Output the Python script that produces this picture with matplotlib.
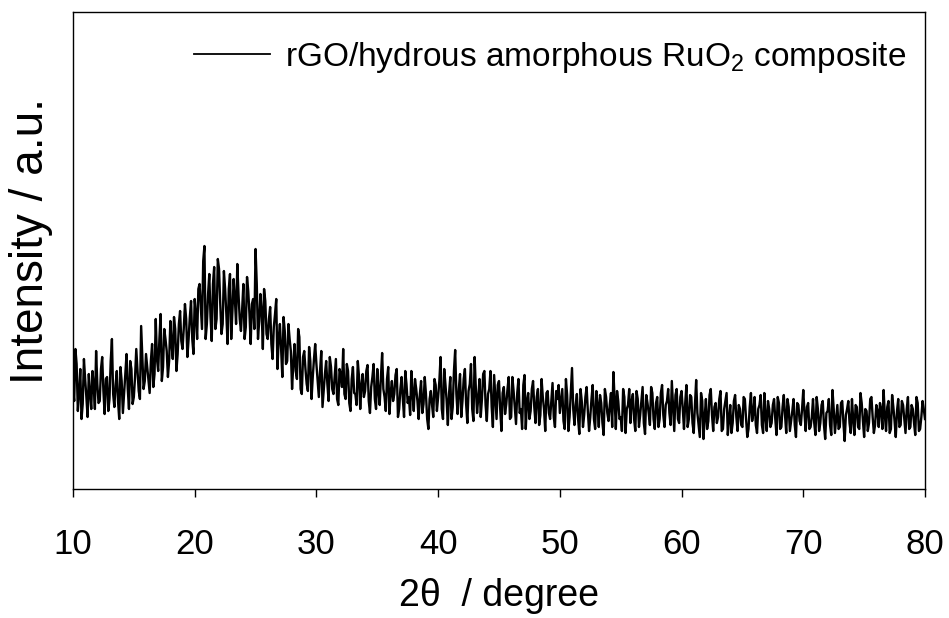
# XRD pattern of rGO / hydrous amorphous RuO2 composite

import numpy as np
import matplotlib
matplotlib.use("Agg")
import matplotlib.pyplot as plt

plt.rcParams['font.family'] = ['Liberation Sans', 'DejaVu Sans']
plt.rcParams['mathtext.default'] = 'regular'

# intensity (a.u.) at 10.0, 10.2, ... 80.0 degree
int_10_20 = [100, 140, 78, 120, 85, 110, 72, 96, 118, 80,
             105, 88, 132, 75, 112, 90, 150, 82, 118, 70,
             108, 95, 135, 80, 120, 92, 140, 98, 163, 100,
             135, 108, 128, 102, 170, 118, 175, 122, 150, 112,
             168, 130, 160, 135, 178, 140, 185, 132, 172, 150]
int_20_30 = [190, 150, 205, 160, 243, 165, 215, 148, 222, 170,
             220, 155, 218, 175, 200, 150, 210, 165, 195, 158,
             205, 162, 198, 145, 190, 240, 150, 195, 140, 188,
             150, 182, 130, 175, 120, 165, 112, 158, 128, 150,
             100, 145, 110, 152, 95, 138, 105, 142, 90, 130]
int_30_40 = [125, 92, 138, 98, 128, 88, 122, 95, 130, 84,
             115, 140, 90, 118, 78, 122, 95, 128, 80, 115,
             98, 124, 76, 112, 90, 120, 84, 136, 92, 110,
             75, 108, 95, 120, 80, 112, 72, 105, 92, 118,
             78, 100, 70, 108, 85, 95, 60, 98, 72, 104]
int_40_50 = [92, 132, 70, 105, 64, 112, 82, 139, 75, 115,
             88, 120, 66, 105, 80, 132, 76, 110, 90, 118,
             68, 100, 82, 114, 70, 108, 58, 102, 85, 112,
             72, 98, 65, 110, 80, 104, 60, 96, 78, 108,
             66, 100, 74, 92, 58, 98, 70, 106, 62, 90]
int_50_60 = [76, 100, 60, 94, 72, 121, 64, 95, 55, 88,
             74, 102, 58, 90, 70, 98, 62, 86, 54, 92,
             68, 96, 117, 60, 88, 72, 100, 56, 84, 66,
             95, 58, 90, 74, 102, 55, 86, 64, 96, 60,
             92, 70, 104, 62, 88, 76, 108, 58, 100, 66]
int_60_70 = [98, 60, 104, 70, 92, 56, 109, 64, 96, 50,
             90, 68, 100, 58, 86, 72, 98, 60, 88, 54,
             84, 66, 94, 58, 80, 62, 90, 52, 82, 68,
             92, 56, 84, 64, 96, 58, 80, 66, 90, 54,
             86, 62, 94, 56, 82, 68, 90, 52, 84, 64]
int_70_80 = [99, 58, 86, 62, 90, 54, 80, 66, 88, 50,
             78, 64, 99, 56, 84, 62, 88, 48, 80, 66,
             90, 54, 82, 60, 86, 52, 78, 66, 92, 56,
             84, 62, 80, 99, 58, 88, 60, 82, 52, 90,
             64, 84, 56, 92, 62, 80, 54, 86, 60, 88,
             70]

# in-between readings at 10.1, 10.3, ... 79.9 degree
mid_10_20 = [88, 125, 96, 70, 130, 92, 115, 80, 104, 138,
             86, 120, 98, 110, 78, 128, 95, 104, 88, 122,
             76, 115, 100, 128, 85, 112, 118, 90, 132, 108,
             122, 96, 145, 115, 130, 150, 108, 160, 138, 128,
             145, 172, 118, 165, 148, 160, 170, 150, 188, 135]
mid_20_30 = [175, 200, 182, 228, 150, 195, 172, 205, 160, 230,
             185, 165, 200, 145, 215, 178, 190, 225, 170, 180,
             150, 212, 175, 185, 160, 205, 168, 178, 200, 155,
             170, 145, 162, 190, 150, 140, 172, 125, 165, 138,
             125, 118, 160, 100, 132, 120, 98, 128, 112, 145]
mid_30_40 = [108, 118, 82, 115, 105, 132, 100, 112, 90, 120,
             102, 95, 125, 86, 110, 96, 84, 112, 104, 92,
             118, 88, 102, 125, 80, 98, 112, 100, 78, 122,
             96, 88, 114, 72, 100, 90, 118, 86, 74, 96,
             110, 88, 95, 76, 112, 70, 90, 84, 110, 78]
mid_40_50 = [108, 80, 120, 88, 96, 70, 118, 95, 100, 72,
             110, 85, 98, 125, 68, 100, 92, 72, 115, 84,
             95, 118, 62, 92, 104, 80, 96, 75, 100, 70,
             112, 82, 96, 76, 60, 114, 88, 70, 100, 82,
             92, 64, 110, 80, 96, 76, 88, 72, 98, 104]
mid_50_60 = [88, 68, 110, 58, 96, 80, 84, 70, 100, 62,
             92, 78, 72, 104, 60, 84, 94, 66, 100, 76,
             84, 62, 90, 98, 70, 58, 92, 80, 100, 88,
             70, 98, 62, 88, 66, 94, 76, 102, 70, 86,
             62, 96, 74, 84, 100, 64, 82, 94, 70, 92]
mid_60_70 = [80, 86, 62, 94, 66, 84, 76, 52, 88, 72,
             60, 94, 74, 82, 66, 90, 58, 80, 96, 70,
             56, 88, 72, 84, 64, 92, 70, 60, 96, 76,
             64, 80, 94, 56, 72, 88, 62, 84, 70, 92,
             60, 82, 74, 90, 58, 78, 64, 86, 68, 80]
mid_70_80 = [76, 82, 60, 72, 66, 92, 58, 84, 64, 76,
             90, 54, 80, 70, 60, 86, 66, 74, 88, 56,
             70, 84, 62, 96, 68, 80, 58, 90, 72, 64,
             78, 86, 60, 74, 82, 56, 94, 68, 78, 62,
             88, 70, 80, 60, 84, 66, 92, 58, 72, 80]

main = np.concatenate([int_10_20, int_20_30, int_30_40, int_40_50,
                       int_50_60, int_60_70, int_70_80])
mids = np.concatenate([mid_10_20, mid_20_30, mid_30_40, mid_40_50,
                       mid_50_60, mid_60_70, mid_70_80])
intensity = np.empty(len(main) + len(mids))
intensity[0::2] = main
intensity[1::2] = mids
two_theta = np.linspace(10, 80, len(intensity))

x_ticks = [10, 20, 30, 40, 50, 60, 70, 80]
label = "rGO/hydrous amorphous RuO$_2$ composite"

fig = plt.figure(figsize=(9.49, 6.18), dpi=100)
ax = fig.add_axes([0.0769, 0.2087, 0.8978, 0.7719])

ax.plot(two_theta, intensity, color='black', lw=1.7, label=label)

ax.set_xlim(10, 80)
ax.set_ylim(0, 477)
ax.set_xticks(x_ticks)
ax.set_yticks([])
ax.tick_params(axis='x', direction='out', length=6, width=1.0, pad=22,
               labelsize=25)
for sp in ax.spines.values():
    sp.set_linewidth(1.0)

ax.set_xlabel("2θ  / degree", fontsize=27, labelpad=12)
ax.set_ylabel("Intensity / a.u.", fontsize=33)
ax.yaxis.set_label_coords(-0.024, 0.52)

leg = ax.legend(loc='upper right', frameon=False, fontsize=24,
                handlelength=2.3, handletextpad=0.45,
                bbox_to_anchor=(1.006, 0.99), borderaxespad=0.3)
leg.get_lines()[0].set_linewidth(1.3)

fig.savefig("out.png", dpi=100)
